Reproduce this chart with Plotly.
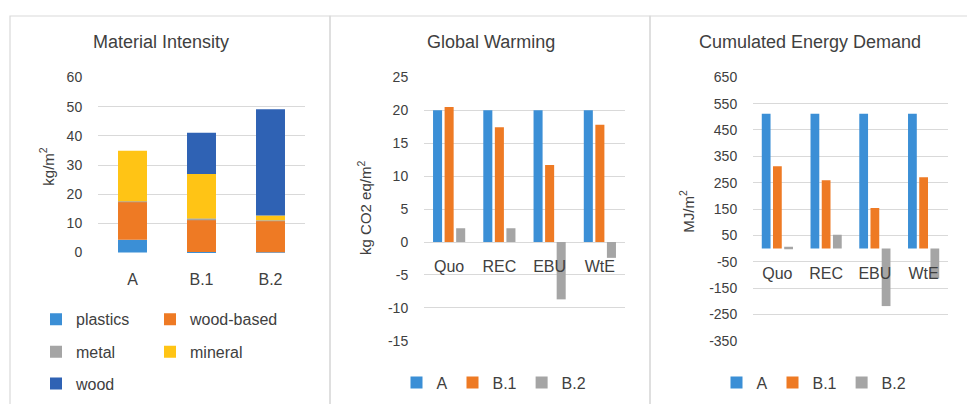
import numpy as np
import plotly.graph_objects as go

# ---------------- data ----------------
mi_categories = ["A", "B.1", "B.2"]
mi_series_names = ["plastics", "wood-based", "metal", "mineral", "wood"]
mi_plastics = [4.4, 0.2, 0.1]
mi_wood_based = [13.1, 11.2, 10.8]
mi_metal = [0.1, 0.3, 0.2]
mi_mineral = [17.3, 15.2, 1.6]
mi_wood = [0.0, 14.2, 36.4]
mi_ticks = [0, 10, 20, 30, 40, 50, 60]

lca_categories = ["Quo", "REC", "EBU", "WtE"]
lca_series_names = ["A", "B.1", "B.2"]
gw_A = [20.0, 20.0, 20.0, 20.0]
gw_B1 = [20.5, 17.4, 11.7, 17.8]
gw_B2 = [2.1, 2.1, -8.7, -2.4]
gw_ticks = [-15, -10, -5, 0, 5, 10, 15, 20, 25]
ced_A = [512, 512, 512, 512]
ced_B1 = [312, 259, 154, 271]
ced_B2 = [7, 53, -218, -113]
ced_ticks = [-350, -250, -150, -50, 50, 150, 250, 350, 450, 550, 650]

# ---------------- style ----------------
FONT = "Liberation Sans"
TXT = "#404040"
GRID = "#d9d9d9"
mi_colors = ["#3b8fd6", "#ee7a24", "#a5a5a5", "#ffc415", "#2f62b4"]
lca_colors = ["#3b8fd6", "#ee7a24", "#a5a5a5"]

# page is 975x412; the page body has an 8px margin on every side,
# so the figure is 16px smaller and all positions are offset by 8px
OFF = 8
PW, PH = 975, 412
W, H = PW - 2 * OFF, PH - 2 * OFF
def px(x):
    return (x - OFF) / W
def py(y):
    return 1 - (y - OFF) / H

fig = go.Figure()

# Panel 1: stacked bars (base from cumulative sums of the series)
mi_data = np.array([mi_plastics, mi_wood_based, mi_metal, mi_mineral, mi_wood], dtype=float)
mi_bases = np.vstack([np.zeros(len(mi_categories)), np.cumsum(mi_data, axis=0)[:-1]])
mi_legends = ["legend", "legend4", "legend2", "legend5", "legend3"]
for i, name in enumerate(mi_series_names):
    fig.add_trace(go.Bar(
        x=mi_categories, y=mi_data[i], base=mi_bases[i], name=name,
        marker=dict(color=mi_colors[i], line=dict(width=0)),
        width=0.42, offset=-0.21, xaxis="x", yaxis="y",
        legend=mi_legends[i],
    ))

# Panels 2 and 3: grouped bars
bw = 0.18
offs = [-0.32, -0.09, 0.14]
for i, (name, vals) in enumerate(zip(lca_series_names, [gw_A, gw_B1, gw_B2])):
    fig.add_trace(go.Bar(
        x=lca_categories, y=vals, name=name,
        marker=dict(color=lca_colors[i], line=dict(width=0)),
        width=bw, offset=offs[i], xaxis="x2", yaxis="y2", legend="legend6",
    ))
for i, (name, vals) in enumerate(zip(lca_series_names, [ced_A, ced_B1, ced_B2])):
    fig.add_trace(go.Bar(
        x=lca_categories, y=vals, name=name,
        marker=dict(color=lca_colors[i], line=dict(width=0)),
        width=bw, offset=offs[i], xaxis="x3", yaxis="y3", legend="legend7",
    ))

y23_dom = [py(346.7), py(71.7)]
def zero_pos(rng, dom):
    return dom[0] + (0 - rng[0]) / (rng[1] - rng[0]) * (dom[1] - dom[0])

gw_range = [-15.02, 25.02]
ced_range = [-350.5, 650.5]

xcommon = dict(showgrid=False, zeroline=False, showline=False,
               ticks="outside", tickcolor="rgba(0,0,0,0)",
               tickfont=dict(family=FONT, size=16, color=TXT), fixedrange=True)
ycommon = dict(showgrid=True, gridcolor=GRID, gridwidth=1, zeroline=False, showline=False,
               ticks="outside", tickcolor="rgba(0,0,0,0)", ticklen=12,
               tickfont=dict(family=FONT, size=14, color=TXT), fixedrange=True)

def tt(vals):
    return [str(v) for v in vals]

fig.update_layout(
    width=W, height=H, margin=dict(l=0, r=0, t=0, b=0),
    paper_bgcolor="white", plot_bgcolor="white",
    barmode="overlay", font=dict(family=FONT, color=TXT),
    xaxis=dict(domain=[px(98), px(305)], anchor="y", range=[-0.5, 2.5], ticklen=12, **xcommon),
    yaxis=dict(domain=[py(255), py(71.7)], anchor="x", range=[-0.15, 60.15],
               tickvals=mi_ticks, ticktext=tt(mi_ticks), **ycommon),
    xaxis2=dict(domain=[px(424), px(625)], anchor="free", position=zero_pos(gw_range, y23_dom),
                range=[-0.5, 3.5], ticklen=10, **xcommon),
    yaxis2=dict(domain=y23_dom, anchor="x2", range=gw_range,
                tickvals=gw_ticks, ticktext=tt(gw_ticks), **ycommon),
    xaxis3=dict(domain=[px(753), px(948)], anchor="free", position=zero_pos(ced_range, y23_dom),
                range=[-0.5, 3.5], ticklen=10, **xcommon),
    yaxis3=dict(domain=y23_dom, anchor="x3", range=ced_range,
                tickvals=ced_ticks, ticktext=tt(ced_ticks), **ycommon),
    showlegend=True,
)

leg_common = dict(orientation="h", bgcolor="rgba(0,0,0,0)", borderwidth=0,
                  font=dict(family=FONT, size=16, color=TXT), yanchor="middle",
                  itemclick=False, itemdoubleclick=False)
fig.update_layout(
    legend=dict(x=px(36), y=py(324), xanchor="left", **leg_common),
    legend2=dict(x=px(36), y=py(358), xanchor="left", **leg_common),
    legend3=dict(x=px(36), y=py(391), xanchor="left", **leg_common),
    legend4=dict(x=px(150), y=py(324), xanchor="left", **leg_common),
    legend5=dict(x=px(150), y=py(358), xanchor="left", **leg_common),
    legend6=dict(x=px(494), y=py(390), xanchor="center", **leg_common),
    legend7=dict(x=px(814), y=py(390), xanchor="center", **leg_common),
)

# titles
titles = [("Material Intensity", 161), ("Global Warming", 491), ("Cumulated Energy Demand", 810)]
for t, cx in titles:
    fig.add_annotation(text=t, x=px(cx), y=py(35), xref="paper", yref="paper",
                       showarrow=False, xanchor="center", yanchor="middle",
                       font=dict(family=FONT, size=18, color=TXT))
ytitles = [("kg/m<sup>2</sup>", 47, 165), ("kg CO2 eq/m<sup>2</sup>", 365, 208), ("MJ/m<sup>2</sup>", 687, 212)]
for t, cx, cy in ytitles:
    fig.add_annotation(text=t, x=px(cx), y=py(cy), xref="paper", yref="paper",
                       showarrow=False, xanchor="center", yanchor="middle", textangle=-90,
                       font=dict(family=FONT, size=15, color=TXT))

# panel frames
for x0, x1 in [(10, 330), (330, 650), (650, 970)]:
    fig.add_shape(type="rect", xref="paper", yref="paper",
                  x0=px(x0), x1=px(x1), y0=py(420), y1=py(8),
                  line=dict(color=GRID, width=1.2), fillcolor="rgba(0,0,0,0)", layer="below")

fig.write_html("out.html")
